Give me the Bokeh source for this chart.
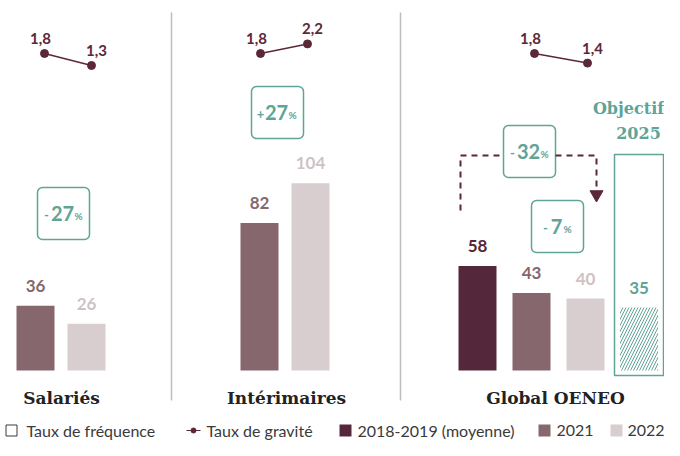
from bokeh.plotting import figure
from bokeh.models import Range1d, BoxAnnotation
from bokeh.core.properties import value
from bokeh.embed import file_html
from bokeh.resources import INLINE

# ---------------- data ----------------
categories = ["Salariés", "Intérimaires", "Global OENEO"]
freq_2021 = [36, 82, 43]
freq_2022 = [26, 104, 40]
freq_2018_2019 = [58]          # Global OENEO only
objectif_2025 = [35]           # Global OENEO target
grav_first = [1.8, 1.8, 1.8]
grav_last = [1.3, 2.2, 1.4]
variations = ["-27", "+27", "-32", "-7"]
legend_labels = ["Taux de fréquence", "Taux de gravité", "2018-2019 (moyenne)", "2021", "2022"]

# ---------------- style ----------------
C_DARK = "#54283a"
C_2021 = "#85676d"
C_2022 = "#d8cdcf"
C_TEAL = "#5fa496"
C_GRAV = "#5b2838"
C_TXT = "#3a3a3a"
NUM_FONT = value("Lato")
SERIF = value("DejaVu Serif")

W, H = 664, 440
BASE = 370      # baseline pixel (from top)
PXU = 1.8       # pixels per frequency unit
G0, GPX = 53, 24  # gravity: pixel of 1.8, pixels per unit

p = figure(width=W, height=H, output_backend="svg", toolbar_location=None,
           x_range=Range1d(0, W), y_range=Range1d(-(H - BASE) / PXU, BASE / PXU),
           x_axis_location=None, y_axis_location=None, min_border=0,
           outline_line_color=None, background_fill_color="white")
p.grid.visible = False
p.extra_y_ranges = {"px": Range1d(H, 0),
                    "grav": Range1d(1.8 - (H - G0) / GPX, 1.8 + G0 / GPX)}

# layout positions (pixels)
x_2021 = [35, 259, 531]
x_2022 = [86, 310, 585]
x_2018 = [477]
x_obj = [638.5]
gx_first = [44, 260, 534]
gx_last = [91, 307, 587]
cat_x = [61, 286, 555]
BW = 38

# separators
for sx in (171, 400):
    p.segment(x0=[sx], y0=[12], x1=[sx], y1=[400], y_range_name="px",
              line_color="#bdbdbd", line_width=1.5)

# objective outline box
p.add_layout(BoxAnnotation(left=614, right=663, top=154, bottom=375, y_range_name="px",
                           fill_color="white", fill_alpha=1, line_color=C_TEAL,
                           line_alpha=1, line_width=1.5, level="underlay"))

# bars
p.vbar(x=x_2021, top=freq_2021, bottom=0, width=BW, fill_color=C_2021, line_color=None)
p.vbar(x=x_2022, top=freq_2022, bottom=0, width=BW, fill_color=C_2022, line_color=None)
p.vbar(x=x_2018, top=freq_2018_2019, bottom=0, width=BW, fill_color=C_DARK, line_color=None)
p.vbar(x=x_obj, top=objectif_2025, bottom=0, width=BW, fill_color="white", line_color=None,
       hatch_pattern="/", hatch_color=C_TEAL, hatch_scale=6, hatch_weight=1)

# bar value labels
def vlabels(xs, vals, color):
    p.text(x=xs, y=vals, text=[str(v) for v in vals], y_offset=-20,
           text_align="center", text_baseline="middle", text_color=color,
           text_font=NUM_FONT, text_font_style="bold", text_font_size="17px")

vlabels(x_2021, freq_2021, C_2021)
vlabels(x_2022, freq_2022, "#cfc2c5")
vlabels(x_2018, freq_2018_2019, C_DARK)
vlabels(x_obj, objectif_2025, C_TEAL)

# gravity lines
for i in range(3):
    xs = [gx_first[i], gx_last[i]]
    ys = [grav_first[i], grav_last[i]]
    p.line(xs, ys, y_range_name="grav", line_color=C_GRAV, line_width=1.5)
    p.scatter(xs, ys, y_range_name="grav", size=8, fill_color=C_GRAV, line_color=C_GRAV)
    p.text(x=xs, y=ys, y_range_name="grav",
           text=[f"{v:.1f}".replace(".", ",") for v in ys],
           x_offset=[-4, 5], y_offset=-15, text_align="center", text_baseline="middle",
           text_color=C_GRAV, text_font=NUM_FONT, text_font_style="bold",
           text_font_size="15px")

# dashed arrow (global)
dash = dict(y_range_name="px", line_color=C_GRAV, line_width=2, line_dash="6 5")
p.line([460, 460, 503], [210, 155, 155], **dash)
p.line([555, 596, 596], [155, 155, 188], **dash)
p.scatter([596], [194], y_range_name="px", marker="inverted_triangle", size=13,
          fill_color=C_GRAV, line_color=C_GRAV)

# variation boxes
box_cx = [63, 277, 529, 557]
box_cy = [213, 112, 151, 226]
for cx, cy, v in zip(box_cx, box_cy, variations):
    p.add_layout(BoxAnnotation(left=cx - 26, right=cx + 26, top=cy - 26, bottom=cy + 26,
                               y_range_name="px", fill_color="white", fill_alpha=1,
                               line_color=C_TEAL, line_alpha=1, line_width=1.5,
                               border_radius=5, level="underlay"))
    sign, num = v[0], v[1:]
    half = 5 * len(num)
    p.text(x=[cx - 1], y=[cy], y_range_name="px", text=[num], text_align="center",
           text_baseline="middle", text_color=C_TEAL, text_font=NUM_FONT,
           text_font_style="bold", text_font_size="20px")
    p.text(x=[cx - 1 - half - 6], y=[cy + 1], y_range_name="px", text=[sign],
           text_align="center", text_baseline="middle", text_color=C_TEAL,
           text_font=NUM_FONT, text_font_style="bold", text_font_size="13px")
    p.text(x=[cx - 1 + half + 6], y=[cy + 2], y_range_name="px", text=["%"],
           text_align="center", text_baseline="middle", text_color=C_TEAL,
           text_font=NUM_FONT, text_font_style="bold", text_font_size="10px")

# Objectif 2025 title
p.text(x=[628, 638], y=[108, 132], y_range_name="px", text=["Objectif", "2025"],
       text_align="center", text_baseline="middle", text_color=C_TEAL,
       text_font=SERIF, text_font_style="bold", text_font_size="16px")

# category labels
p.text(x=cat_x, y=[397] * 3, y_range_name="px", text=categories, text_align="center",
       text_baseline="middle", text_color="#222222", text_font=SERIF,
       text_font_style="bold", text_font_size="17px")

# legend
LY = 430
LFONT = dict(y_range_name="px", text_baseline="middle", text_color=C_TXT,
             text_font=NUM_FONT, text_font_size="16px")
p.scatter([11], [LY], y_range_name="px", marker="square", size=11,
          fill_color="white", line_color=C_TXT, line_width=1)
p.text(x=[26], y=[LY], text=[legend_labels[0]], **LFONT)
p.line([186, 200], [LY, LY], y_range_name="px", line_color=C_GRAV, line_width=1.2)
p.scatter([193], [LY], y_range_name="px", size=5, fill_color=C_GRAV, line_color=C_GRAV)
p.text(x=[206], y=[LY], text=[legend_labels[1]], **LFONT)
for sx, col, tx, lab in [(345, C_DARK, 357, legend_labels[2]),
                         (544, C_2021, 556, legend_labels[3]),
                         (616, C_2022, 627, legend_labels[4])]:
    p.scatter([sx], [LY], y_range_name="px", marker="square", size=12,
              fill_color=col, line_color=None)
    p.text(x=[tx], y=[LY], text=[lab], **LFONT)

open("out.html", "w").write(file_html(p, INLINE))
